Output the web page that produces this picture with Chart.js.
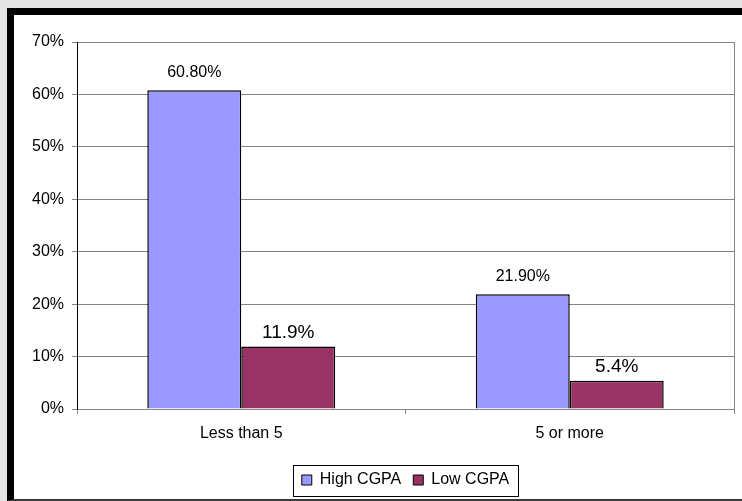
<!DOCTYPE html>
<html>
<head>
<meta charset="utf-8">
<script src="https://cdn.jsdelivr.net/npm/chart.js@4/dist/chart.umd.min.js"></script>
<style>
  html, body { margin: 0; padding: 0; background: #e4e4e4; width: 742px; height: 501px; overflow: hidden; }
  #frame {
    position: absolute; left: 7px; top: 8px;
    width: 728px; height: 484px;
    background: #ffffff;
    border-left: 7px solid #000;
    border-top: 7px solid #000;
    border-bottom: 2px solid #3a3a3a;
  }
  canvas { display: block; }
</style>
</head>
<body>
<div id="frame"><canvas id="chart" width="728" height="484"></canvas></div>
<script>
// Share of students by group, in percent
const categories = ['Less than 5', '5 or more'];
const seriesNames = ['High CGPA', 'Low CGPA'];
const highCgpa = [60.8, 21.9];
const lowCgpa = [11.9, 5.4];
const yTicks = [0, 10, 20, 30, 40, 50, 60, 70];
// decimals shown in each series' value labels
const labelDecimals = [2, 1];

const FONT = '"Liberation Sans", Arial, sans-serif';
const GRID = '#858585';

// Value labels above each bar
const valueLabels = {
  id: 'valueLabels',
  afterDatasetsDraw(chart) {
    const ctx = chart.ctx;
    const styles = [
      { size: 16, gap: 13 },
      { size: 19, gap: 9 }
    ];
    chart.data.datasets.forEach((ds, i) => {
      const meta = chart.getDatasetMeta(i);
      ctx.save();
      ctx.font = styles[i].size + 'px ' + FONT;
      ctx.fillStyle = '#000';
      ctx.textAlign = 'center';
      ctx.textBaseline = 'alphabetic';
      meta.data.forEach((bar, j) => {
        const txt = ds.data[j].toFixed(labelDecimals[i]) + '%';
        ctx.fillText(txt, bar.x, bar.y - styles[i].gap);
      });
      ctx.restore();
    });
  }
};

// Right edge of the plot area and a frame round the legend
const plotFrame = {
  id: 'plotFrame',
  afterDraw(chart) {
    const ctx = chart.ctx;
    const a = chart.chartArea;
    ctx.save();
    ctx.strokeStyle = GRID;
    ctx.lineWidth = 1;
    ctx.beginPath();
    ctx.moveTo(Math.round(a.right) + 0.5, a.top);
    ctx.lineTo(Math.round(a.right) + 0.5, a.bottom);
    ctx.stroke();

    const boxes = chart.legend && chart.legend.legendHitBoxes;
    if (boxes && boxes.length) {
      let l = Infinity, r = -Infinity, t = Infinity, b = -Infinity;
      boxes.forEach(h => {
        l = Math.min(l, h.left); r = Math.max(r, h.left + h.width);
        t = Math.min(t, h.top); b = Math.max(b, h.top + h.height);
      });
      ctx.strokeStyle = '#000';
      ctx.lineWidth = 1;
      ctx.strokeRect(Math.round(l - 9) + 0.5, Math.round(t - 7) + 0.5,
                     Math.round(r - l + 18), Math.round(b - t + 15));
    }
    ctx.restore();
  }
};

new Chart(document.getElementById('chart'), {
  type: 'bar',
  data: {
    labels: categories,
    datasets: [
      { label: seriesNames[0], data: highCgpa, backgroundColor: '#9999ff', borderColor: '#000', borderWidth: 1.5 },
      { label: seriesNames[1], data: lowCgpa, backgroundColor: '#993366', borderColor: '#000', borderWidth: 1.5 }
    ]
  },
  options: {
    responsive: false,
    animation: false,
    categoryPercentage: 0.572,
    barPercentage: 1.0,
    layout: { padding: { top: 27, right: 8, left: 0, bottom: 1 } },
    plugins: {
      tooltip: { enabled: false },
      legend: {
        position: 'bottom',
        fullSize: false,
        labels: {
          boxWidth: 10, boxHeight: 10, padding: 12,
          color: '#000',
          font: { family: FONT, size: 16 },
          generateLabels(chart) {
            return chart.data.datasets.map((ds, i) => ({
              text: ds.label, fillStyle: ds.backgroundColor, strokeStyle: '#000',
              lineWidth: 1, hidden: false, datasetIndex: i, fontColor: '#000'
            }));
          }
        }
      }
    },
    scales: {
      x: {
        afterFit(scale) { scale.height = 51; },
        grid: { drawOnChartArea: false, drawTicks: true, tickLength: 5, color: GRID },
        border: { display: true, color: GRID, width: 1 },
        ticks: { color: '#000', padding: 10, font: { family: FONT, size: 16 } }
      },
      y: {
        min: 0, max: 70,
        afterFit(scale) { scale.width = 63; },
        afterBuildTicks(scale) { scale.ticks = yTicks.map(v => ({ value: v })); },
        grid: { color: GRID, lineWidth: 1, tickLength: 5 },
        border: { display: true, color: '#000', width: 1 },
        ticks: {
          color: '#000', padding: 8,
          font: { family: FONT, size: 16 },
          callback: v => v + '%'
        }
      }
    }
  },
  plugins: [valueLabels, plotFrame]
});
</script>
</body>
</html>
